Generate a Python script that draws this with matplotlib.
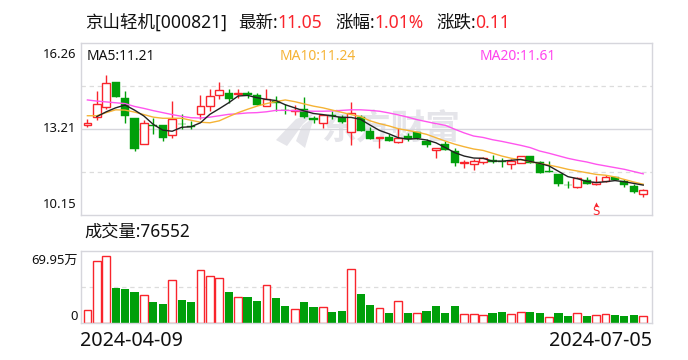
import matplotlib
matplotlib.use('Agg')
import matplotlib.pyplot as plt
from matplotlib.patches import Polygon
from matplotlib.transforms import Affine2D
import numpy as np

plt.rcParams['font.family'] = ['Noto Sans', 'Noto Sans CJK SC', 'DejaVu Sans']

# bar tops / bottoms and shadows, in yuan
body_top = [13.42,14.10,14.84,14.85,14.29,13.58,13.42,13.33,13.33,13.56,13.39,13.32,14.03,14.38,14.59,14.46,14.46,14.46,14.39,14.25,
            14.18,13.88,13.86,13.91,13.58,13.71,13.68,13.64,13.75,13.61,13.12,12.93,12.90,12.89,12.96,13.08,12.77,12.54,12.68,12.41,
            12.03,12.08,12.16,12.11,12.05,12.05,12.25,12.25,12.04,11.70,11.59,11.22,11.47,11.38,11.33,11.51,11.51,11.37,11.17,11.05]
body_bot = [13.34,13.64,13.99,14.33,13.66,12.48,12.67,13.32,12.88,12.99,13.36,13.28,13.73,14.01,14.42,14.25,14.44,14.39,14.05,14.01,
            14.13,13.86,13.84,13.61,13.51,13.42,13.66,13.45,13.10,13.13,12.84,12.88,12.77,12.74,12.83,12.87,12.62,12.47,12.45,11.98,
            12.00,11.97,12.03,12.04,12.03,11.97,12.00,11.99,11.64,11.67,11.24,11.20,11.14,11.24,11.26,11.35,11.38,11.21,10.96,10.89]
high = [13.56,14.53,15.10,14.85,14.53,13.58,13.51,13.60,13.33,14.18,13.72,13.48,14.39,14.61,14.88,14.61,14.61,14.55,14.46,14.63,
        14.37,14.10,14.04,14.32,13.66,13.71,13.84,13.71,14.14,13.68,13.28,12.93,13.01,13.25,13.05,13.08,12.86,12.54,12.76,12.54,
        12.10,12.12,12.22,12.26,12.16,12.12,12.25,12.25,12.06,12.06,11.59,11.37,11.51,11.51,11.53,11.56,11.51,11.44,11.24,11.07]
low = [13.28,13.51,13.90,14.33,13.40,12.42,12.67,13.01,12.77,12.89,13.21,13.19,13.54,13.84,14.25,14.13,14.31,14.29,14.05,14.01,
       13.84,13.73,13.68,13.58,13.40,13.23,13.54,13.40,12.63,13.13,12.84,12.52,12.77,12.69,12.77,12.86,12.56,12.17,12.45,11.89,
       11.82,11.74,11.95,12.00,11.84,11.77,11.98,11.98,11.64,11.67,11.17,11.09,11.11,11.24,11.20,11.32,11.38,11.14,10.92,10.79]
candle_up = [1,1,1,0,0,0,1,0,0,1,0,0,1,1,1,0,1,0,0,1,
             0,0,1,0,0,1,0,0,1,0,0,1,0,1,0,0,0,1,0,0,
             1,1,1,0,0,1,1,0,0,0,0,0,1,0,1,1,0,0,0,1]

nan = float('nan')
ma5 = [nan,13.64,13.81,13.95,14.05,13.87,13.66,13.36,13.16,13.12,13.26,13.28,13.42,13.72,13.92,14.13,14.37,14.39,14.31,14.25,
       14.21,14.06,13.95,13.84,13.75,13.71,13.66,13.61,13.61,13.54,13.34,13.15,13.03,12.89,12.84,12.86,12.81,12.71,12.54,12.36,
       12.24,12.17,12.16,12.06,12.06,12.09,12.12,12.05,11.98,11.89,11.70,11.51,11.44,11.34,11.30,11.33,11.37,11.33,11.27,11.21]
ma10 = [13.67,13.67,13.78,13.88,13.87,13.80,13.71,13.62,13.58,13.58,13.58,13.51,13.44,13.42,13.49,13.64,13.78,13.90,14.01,14.10,
        14.17,14.23,14.17,14.09,14.01,13.95,13.87,13.79,13.71,13.64,13.49,13.39,13.31,13.21,13.15,13.09,13.01,12.89,12.77,12.66,
        12.57,12.49,12.44,12.34,12.24,12.16,12.11,12.04,11.98,11.92,11.85,11.77,11.71,11.65,11.59,11.56,11.50,11.41,11.32,11.24]
ma20 = [14.23,14.19,14.16,14.13,14.10,14.00,13.93,13.85,13.78,13.71,13.65,13.60,13.59,13.62,13.67,13.72,13.74,13.77,13.78,13.81,
        13.86,13.86,13.85,13.84,13.83,13.83,13.84,13.86,13.88,13.88,13.86,13.83,13.77,13.70,13.62,13.53,13.46,13.39,13.33,13.19,
        13.06,12.95,12.90,12.82,12.76,12.69,12.62,12.54,12.42,12.34,12.25,12.16,12.09,12.03,11.95,11.89,11.83,11.77,11.69,11.61]

# volume, in units of 10,000 shares
volume = [13.2,64.4,69.95,36.5,35.5,32.4,28.9,21.9,19.8,44.5,24.0,21.9,55.0,48.7,46.6,32.4,26.8,27.1,23.0,39.3,
          26.1,17.7,14.3,21.9,16.7,16.4,11.5,12.5,56.0,30.3,18.8,15.3,10.4,22.6,10.4,10.1,12.5,17.7,10.4,17.7,
          9.0,9.0,8.0,10.4,11.5,9.0,11.1,11.5,10.4,5.9,10.4,7.3,10.1,7.3,8.0,9.0,8.4,7.3,8.4,7.66]
vol_up = [1,1,1,0,0,0,1,0,0,1,0,0,1,1,1,0,1,0,0,1,
          0,0,1,0,0,1,0,0,1,0,0,1,0,1,0,1,0,0,0,0,
          1,1,1,0,0,1,1,0,0,1,0,0,1,0,1,1,0,0,0,1]

date_start = '2024-04-09'
date_end = '2024-07-05'
price_ticks = ['16.26', '13.21', '10.15']
vol_ticks = ['69.95万', '0']
sell_idx = 54
sell_price = 10.29

RED = '#f9242c'
GREEN = '#009f0a'
BORDER = '#d6d6dc'
GRID = '#dcdcdc'
MARK = '#e5e5ea'
W, H = 688, 360

fig = plt.figure(figsize=(W / 100, H / 100), dpi=100)
to_px = Affine2D().scale(1, -1).translate(0, H)


def px_axes(l, t, r, b):
    return fig.add_axes([l / W, 1 - b / H, (r - l) / W, (b - t) / H])


def ptext(x, y, s, color='#111111', size=10, ha='left', **kw):
    fig.text(x / W, 1 - y / H, s, color=color, fontsize=size, ha=ha, va='center', **kw)


xs = np.arange(len(body_top))
xlim = (-0.68, 59.93)
ax = px_axes(81, 42.7, 652, 215)
vx = px_axes(81, 251.3, 652, 323)

for a in (ax, vx):
    a.set_xlim(*xlim)
    a.set_xticks([])
    a.set_yticks([])
    a.patch.set_alpha(0)
    a.set_zorder(2)
    for s in a.spines.values():
        s.set_color(BORDER)
        s.set_linewidth(1.0)

ax.set_ylim(10.15, 16.26)
vx.set_ylim(0, 74.8)

# watermark, under the axes
fig.text(391 / W, 1 - 128 / H, '东方财富', fontsize=25, color=MARK, ha='center', va='center',
         fontweight='bold', zorder=0.5, family=['Noto Sans CJK SC'])
for pts in ([(276, 140), (296, 119), (315, 113), (303, 124), (287, 146)],
            [(302, 126), (314, 117), (305, 148), (296, 141)]):
    fig.add_artist(Polygon(pts, closed=True, transform=to_px, facecolor=MARK, edgecolor='none', zorder=0.5))

# grid
ax.axhline(14.73, color=GRID, lw=0.9, ls=(0, (3.5, 3)), zorder=0)
ax.axhline(13.21, color=BORDER, lw=1.0, zorder=0)
ax.axhline(11.68, color=GRID, lw=0.9, ls=(0, (3.5, 3)), zorder=0)
vx.axhline(37.4, color=GRID, lw=0.9, ls=(0, (3.5, 3)), zorder=0)

# candles
bw = 0.82
for i in xs:
    c = RED if candle_up[i] else GREEN
    top, bot = body_top[i], body_bot[i]
    if candle_up[i]:
        ax.vlines(i, top, high[i], color=c, lw=1.0, zorder=2)
        ax.vlines(i, low[i], bot, color=c, lw=1.0, zorder=2)
        ax.bar(i, top - bot, bottom=bot, width=bw, facecolor='white', edgecolor=c, lw=1.0, zorder=2.2)
    else:
        ax.vlines(i, low[i], high[i], color=c, lw=1.0, zorder=2)
        ax.bar(i, top - bot, bottom=bot, width=bw + 0.05, facecolor=c, edgecolor=c, lw=0.3, zorder=2.2)

# moving averages
ax.plot(xs, ma20, color='#ff55ee', lw=1.0, zorder=3)
ax.plot(xs, ma10, color='#f5b335', lw=1.0, zorder=3)
ax.plot(xs, ma5, color='#222222', lw=1.0, zorder=3)

# sell marker
ax.text(sell_idx, sell_price, 'S', color=RED, fontsize=8.5, ha='center', va='center',
        family=['DejaVu Sans'], zorder=4)
ax.plot([sell_idx], [sell_price + 0.24], marker='^', ms=3.0, color=RED, mew=0, zorder=4)

# volume
for i in xs:
    if vol_up[i]:
        vx.bar(i, volume[i], width=bw, facecolor='white', edgecolor=RED, lw=1.0, zorder=2)
    else:
        vx.bar(i, volume[i], width=bw + 0.05, facecolor=GREEN, edgecolor='none', zorder=2)

# header
ts = 12.6
ptext(85, 23, '京山轻机[000821]', size=ts)
ptext(238, 23, '最新:', size=ts)
ptext(277, 23, '11.05', color=RED, size=ts)
ptext(335, 23, '涨幅:', size=ts)
ptext(374, 23, '1.01%', color=RED, size=ts)
ptext(436, 23, '涨跌:', size=ts)
ptext(475, 23, '0.11', color=RED, size=ts)

# legend
ptext(87, 57, 'MA5:11.21', size=10)
ptext(280, 57, 'MA10:11.24', color='#f5b335', size=10)
ptext(480, 57, 'MA20:11.61', color='#ff44ee', size=10)

# axis labels
ptext(76, 54, price_ticks[0], size=9.4, ha='right')
ptext(76, 128, price_ticks[1], size=9.4, ha='right')
ptext(76, 205, price_ticks[2], size=9.4, ha='right')
ptext(78, 261, vol_ticks[0], size=9.4, ha='right')
ptext(78, 316, vol_ticks[1], size=9.4, ha='right')
ptext(84, 232, '成交量:76552', size=12.4)
ptext(80, 341, date_start, size=14.2)
ptext(652, 341, date_end, size=14.2, ha='right')

fig.savefig('out.png', dpi=100)
